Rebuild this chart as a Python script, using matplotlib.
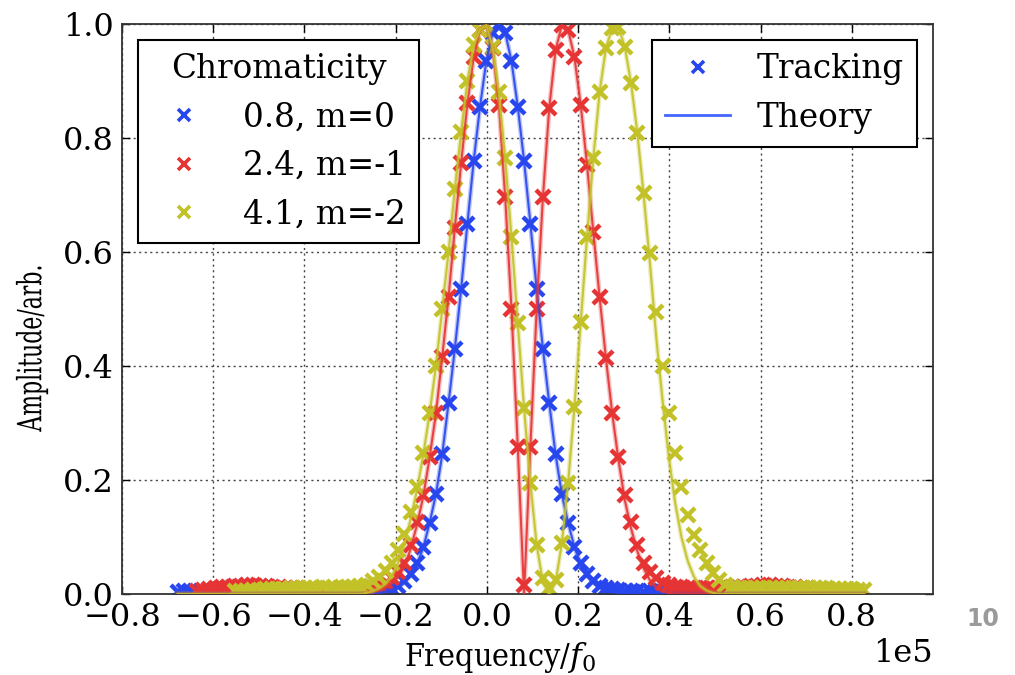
import matplotlib
matplotlib.use("Agg")
import matplotlib.pyplot as plt
import matplotlib.patheffects as pe
import matplotlib.ticker as ticker
from matplotlib.lines import Line2D
from matplotlib.transforms import Affine2D
import numpy as np

plt.rcParams["font.family"] = ["DejaVu Serif"]
plt.rcParams["mathtext.fontset"] = "dejavuserif"
plt.rcParams["font.size"] = 23

# frequency grid of the tracking spectra (same for every chromaticity)
freq = [
    -67750, -66370, -64990, -63610, -62230, -60850, -59470, -58090, -56710, -55330,
    -53950, -52570, -51190, -49810, -48430, -47050, -45670, -44290, -42910, -41530,
    -40150, -38770, -37390, -36010, -34630, -33250, -31870, -30490, -29110, -27730,
    -26350, -24970, -23590, -22210, -20830, -19450, -18070, -16690, -15310, -13930,
    -12550, -11170, -9790, -8410, -7030, -5650, -4270, -2890, -1510, -130,
    1250, 2630, 4010, 5390, 6770, 8150, 9530, 10910, 12290, 13670,
    15050, 16430, 17810, 19190, 20570, 21950, 23330, 24710, 26090, 27470,
    28850, 30230, 31610, 32990, 34370, 35750, 37130, 38510, 39890, 41270,
    42650, 44030, 45410, 46790, 48170, 49550, 50930, 52310, 53690, 55070,
    56450, 57830, 59210, 60590, 61970, 63350, 64730, 66110, 67490, 68870,
    70250, 71630, 73010, 74390, 75770, 77150, 78530, 79910, 81290, 82670,
]

# tracking amplitudes (None = no sample)
track_m0 = [
    0.004, 0.006, 0.005, 0.004, 0.006, 0.005, 0.004, 0.005, 0.006, 0.004,
    0.005, 0.004, 0.006, 0.005, 0.004, 0.005, 0.006, 0.005, 0.004, 0.005,
    0.006, 0.004, 0.005, 0.006, 0.005, 0.004, 0.006, 0.005, 0.005, 0.006,
    0.004, 0.005, 0.004, 0.006, 0.009, 0.014, 0.022, 0.035, 0.054, 0.082,
    0.125, 0.175, 0.245, 0.335, 0.43, 0.535, 0.65, 0.76, 0.855, 0.935,
    0.985, 1.0, 0.985, 0.935, 0.855, 0.76, 0.65, 0.535, 0.43, 0.335,
    0.245, 0.175, 0.125, 0.082, 0.054, 0.035, 0.022, 0.014, 0.011, 0.008,
    0.007, 0.006, 0.005, 0.006, 0.004, 0.005, 0.006, 0.004, 0.005, 0.005,
    0.004, 0.006, 0.005, 0.004, 0.005, 0.006, 0.004, 0.005, 0.004, 0.005,
    0.006, 0.004, 0.005, 0.005, 0.004, 0.006, 0.005, 0.004, 0.005, 0.006,
    0.004, 0.005, None, None, None, None, None, None, None, None,
]
track_m1 = [
    None, None, None, 0.005, 0.007, 0.009, 0.011, 0.012, 0.013, 0.014,
    0.014, 0.015, 0.015, 0.014, 0.014, 0.013, 0.012, 0.011, 0.010, 0.010,
    0.009, 0.008, 0.008, 0.007, 0.007, 0.006, 0.006, 0.007, 0.008, 0.009,
    0.010, 0.011, 0.014, 0.020, 0.028, 0.038, 0.054, 0.086, 0.126, 0.174,
    0.24, 0.317, 0.416, 0.521, 0.642, 0.756, 0.861, 0.942, 0.99, 0.998,
    0.958, 0.858, 0.697, 0.50, 0.258, 0.016, 0.258, 0.50, 0.697, 0.853,
    0.954, 0.998, 0.99, 0.942, 0.858, 0.753, 0.635, 0.521, 0.414, 0.317,
    0.24, 0.174, 0.126, 0.086, 0.054, 0.038, 0.028, 0.02, 0.016, 0.013,
    0.012, 0.011, 0.011, 0.010, 0.010, 0.011, 0.011, 0.012, 0.012, 0.013,
    0.013, 0.014, 0.014, 0.015, 0.015, 0.014, 0.014, 0.013, 0.012, 0.011,
    0.010, 0.008, 0.007, 0.006, 0.005, 0.004, 0.004, None, None, None,
]
track_m2 = [
    None, None, None, None, None, None, None, None, None, 0.005,
    0.006, 0.006, 0.007, 0.007, 0.008, 0.008, 0.009, 0.009, 0.010, 0.010,
    0.011, 0.011, 0.011, 0.012, 0.011, 0.011, 0.012, 0.012, 0.013, 0.014,
    0.016, 0.022, 0.03, 0.04, 0.055, 0.077, 0.105, 0.143, 0.188, 0.247,
    0.317, 0.40, 0.50, 0.60, 0.71, 0.81, 0.90, 0.963, 0.99, 0.998,
    0.96, 0.88, 0.765, 0.626, 0.475, 0.326, 0.195, 0.086, 0.028, 0.01,
    0.025, 0.089, 0.195, 0.328, 0.477, 0.626, 0.765, 0.88, 0.958, 0.993,
    0.995, 0.96, 0.896, 0.809, 0.703, 0.598, 0.495, 0.40, 0.317, 0.247,
    0.188, 0.139, 0.104, 0.077, 0.054, 0.037, 0.025, 0.016, 0.012, 0.011,
    0.011, 0.010, 0.010, 0.010, 0.011, 0.011, 0.010, 0.010, 0.010, 0.011,
    0.011, 0.010, 0.010, 0.010, 0.009, 0.009, 0.008, 0.008, 0.007, 0.007,
]

# theory curves on the same grid
theory_m0 = [
    0.0, 0.0, 0.0, 0.0, 0.0, 0.0, 0.0, 0.0, 0.0, 0.0,
    0.0, 0.0, 0.0, 0.0, 0.0, 0.0, 0.0, 0.0, 0.0, 0.0,
    0.0, 0.0, 0.0, 0.0, 0.0, 0.0, 0.0, 0.0, 0.0, 0.0,
    0.0, 0.001, 0.002, 0.004, 0.007, 0.012, 0.02, 0.033, 0.053, 0.082,
    0.125, 0.175, 0.245, 0.335, 0.43, 0.535, 0.65, 0.76, 0.855, 0.935,
    0.985, 1.0, 0.985, 0.935, 0.855, 0.76, 0.65, 0.535, 0.43, 0.335,
    0.245, 0.175, 0.125, 0.082, 0.053, 0.033, 0.02, 0.012, 0.007, 0.004,
    0.002, 0.001, 0.0, 0.0, 0.0, 0.0, 0.0, 0.0, 0.0, 0.0,
    0.0, 0.0, 0.0, 0.0, 0.0, 0.0, 0.0, 0.0, 0.0, 0.0,
    0.0, 0.0, 0.0, 0.0, 0.0, 0.0, 0.0, 0.0, 0.0, 0.0,
    0.0, 0.0, 0.0, 0.0, 0.0, 0.0, 0.0, 0.0, 0.0, 0.0,
]
theory_m1 = [
    0.0, 0.0, 0.0, 0.0, 0.0, 0.0, 0.0, 0.0, 0.0, 0.0,
    0.0, 0.0, 0.0, 0.0, 0.0, 0.0, 0.0, 0.0, 0.0, 0.0,
    0.0, 0.0, 0.0, 0.0, 0.0, 0.0, 0.0, 0.0, 0.0, 0.0,
    0.002, 0.004, 0.007, 0.011, 0.019, 0.03, 0.048, 0.08, 0.122, 0.172,
    0.24, 0.317, 0.416, 0.521, 0.642, 0.756, 0.861, 0.942, 0.99, 0.998,
    0.958, 0.858, 0.697, 0.50, 0.258, 0.0, 0.258, 0.50, 0.697, 0.853,
    0.954, 0.998, 0.99, 0.942, 0.858, 0.753, 0.635, 0.521, 0.414, 0.317,
    0.235, 0.165, 0.115, 0.075, 0.045, 0.024, 0.012, 0.005, 0.002, 0.0,
    0.0, 0.0, 0.0, 0.0, 0.0, 0.0, 0.0, 0.0, 0.0, 0.0,
    0.0, 0.0, 0.0, 0.0, 0.0, 0.0, 0.0, 0.0, 0.0, 0.0,
    0.0, 0.0, 0.0, 0.0, 0.0, 0.0, 0.0, 0.0, 0.0, 0.0,
]
theory_m2 = [
    0.0, 0.0, 0.0, 0.0, 0.0, 0.0, 0.0, 0.0, 0.0, 0.0,
    0.0, 0.0, 0.0, 0.0, 0.0, 0.0, 0.0, 0.0, 0.0, 0.0,
    0.0, 0.0, 0.0, 0.0, 0.0, 0.0, 0.0, 0.0, 0.0, 0.0,
    0.002, 0.005, 0.01, 0.018, 0.032, 0.055, 0.088, 0.132, 0.183, 0.245,
    0.317, 0.40, 0.50, 0.60, 0.71, 0.81, 0.90, 0.963, 0.99, 0.998,
    0.96, 0.88, 0.765, 0.626, 0.475, 0.326, 0.195, 0.086, 0.02, 0.0,
    0.02, 0.089, 0.195, 0.328, 0.477, 0.626, 0.765, 0.88, 0.958, 0.993,
    0.995, 0.96, 0.896, 0.809, 0.70, 0.58, 0.45, 0.34, 0.24, 0.16,
    0.10, 0.058, 0.03, 0.014, 0.006, 0.002, 0.0, 0.0, 0.0, 0.0,
    0.0, 0.0, 0.0, 0.0, 0.0, 0.0, 0.0, 0.0, 0.0, 0.0,
    0.0, 0.0, 0.0, 0.0, 0.0, 0.0, 0.0, 0.0, 0.0, 0.0,
]

labels = ["0.8, m=0", "2.4, m=-1", "4.1, m=-2"]
colors = ["#2846ee", "#e63434", "#c2c228"]


class FixedOrderFormatter(ticker.ScalarFormatter):
    # always show the x ticks in units of 1e5
    def __init__(self, order):
        self._order = order
        super().__init__(useOffset=False, useMathText=False)

    def _set_order_of_magnitude(self):
        self.orderOfMagnitude = self._order


class Squeeze(pe.AbstractPathEffect):
    # squeeze a centred text along its writing direction
    def __init__(self, factor):
        super().__init__()
        self.factor = factor

    def draw_path(self, renderer, gc, tpath, affine, rgbFace=None):
        w = tpath.get_extents().x1
        squeeze = Affine2D().translate(-w / 2, 0).scale(self.factor, 1).translate(w / 2, 0)
        renderer.draw_path(gc, tpath, squeeze + affine, rgbFace)


fig = plt.figure(figsize=(10.15, 6.75), dpi=100)
ax = fig.add_axes([0.1202, 0.12, 0.799, 0.8444])

x = np.array(freq, dtype=float)
for tr, th, col, lab in zip([track_m0, track_m1, track_m2],
                            [theory_m0, theory_m1, theory_m2], colors, labels):
    ax.plot(x, np.array(tr, dtype=float), linestyle="none", marker="x", ms=10,
            mew=3.2, color=col, label=lab, zorder=2)
    ax.plot(x, np.array(th, dtype=float), color=col, lw=1.5, alpha=0.9, zorder=3,
            path_effects=[pe.Stroke(linewidth=3.5, foreground=col, alpha=0.3),
                          pe.Normal()])

ax.set_xlim(-80000, 97800)
ax.set_ylim(0, 1.0)
ax.set_xticks([-80000, -60000, -40000, -20000, 0, 20000, 40000, 60000, 80000])
ax.set_yticks([0.0, 0.2, 0.4, 0.6, 0.8, 1.0])
ax.xaxis.set_major_formatter(FixedOrderFormatter(5))
ax.xaxis.get_offset_text().set_fontsize(23)
ax.tick_params(direction="in", length=6, width=1, top=True, right=True,
               labelsize=23, pad=6)
ax.grid(True, linestyle=(0, (1.5, 2.5)), color="#444444", lw=1)
for sp in ax.spines.values():
    sp.set_linewidth(1.3)
    sp.set_color("#333333")

ax.set_xlabel("Frequency/$f_0$", fontsize=23, fontstretch="condensed")
ax.xaxis.set_label_coords(0.466, -0.08)
ylab = ax.set_ylabel("Amplitude/arb.", fontsize=24)
ylab.set_path_effects([Squeeze(0.66)])
ax.yaxis.set_label_coords(-0.091, 0.433)

# legend for the chromaticities
leg1 = ax.legend(handles=[Line2D([], [], ls="none", marker="x", ms=8, mew=2.6, color=c)
                          for c in colors],
                 labels=labels, title="Chromaticity", loc="upper left",
                 numpoints=1, fontsize=23.5, title_fontsize=23.5, fancybox=False,
                 framealpha=1, edgecolor="black", handlelength=2,
                 borderaxespad=0.5)
leg1.get_frame().set_linewidth(1.5)
ax.add_artist(leg1)

# legend for tracking vs theory
leg2 = ax.legend(handles=[Line2D([], [], ls="none", marker="x", ms=8, mew=2.6, color="#2846ee"),
                          Line2D([], [], color="#4466ff", lw=2)],
                 labels=["Tracking", "Theory"], loc="upper right", numpoints=1,
                 fontsize=23.5, fancybox=False, framealpha=1, edgecolor="black",
                 handlelength=2, borderaxespad=0.5)
leg2.get_frame().set_linewidth(1.5)

# slide page number
fig.text(0.968, 0.083, "10", fontsize=17, fontweight="bold", color="#9a9a9a",
         family="DejaVu Sans", ha="center", va="center")

fig.savefig("out.png", dpi=100)
